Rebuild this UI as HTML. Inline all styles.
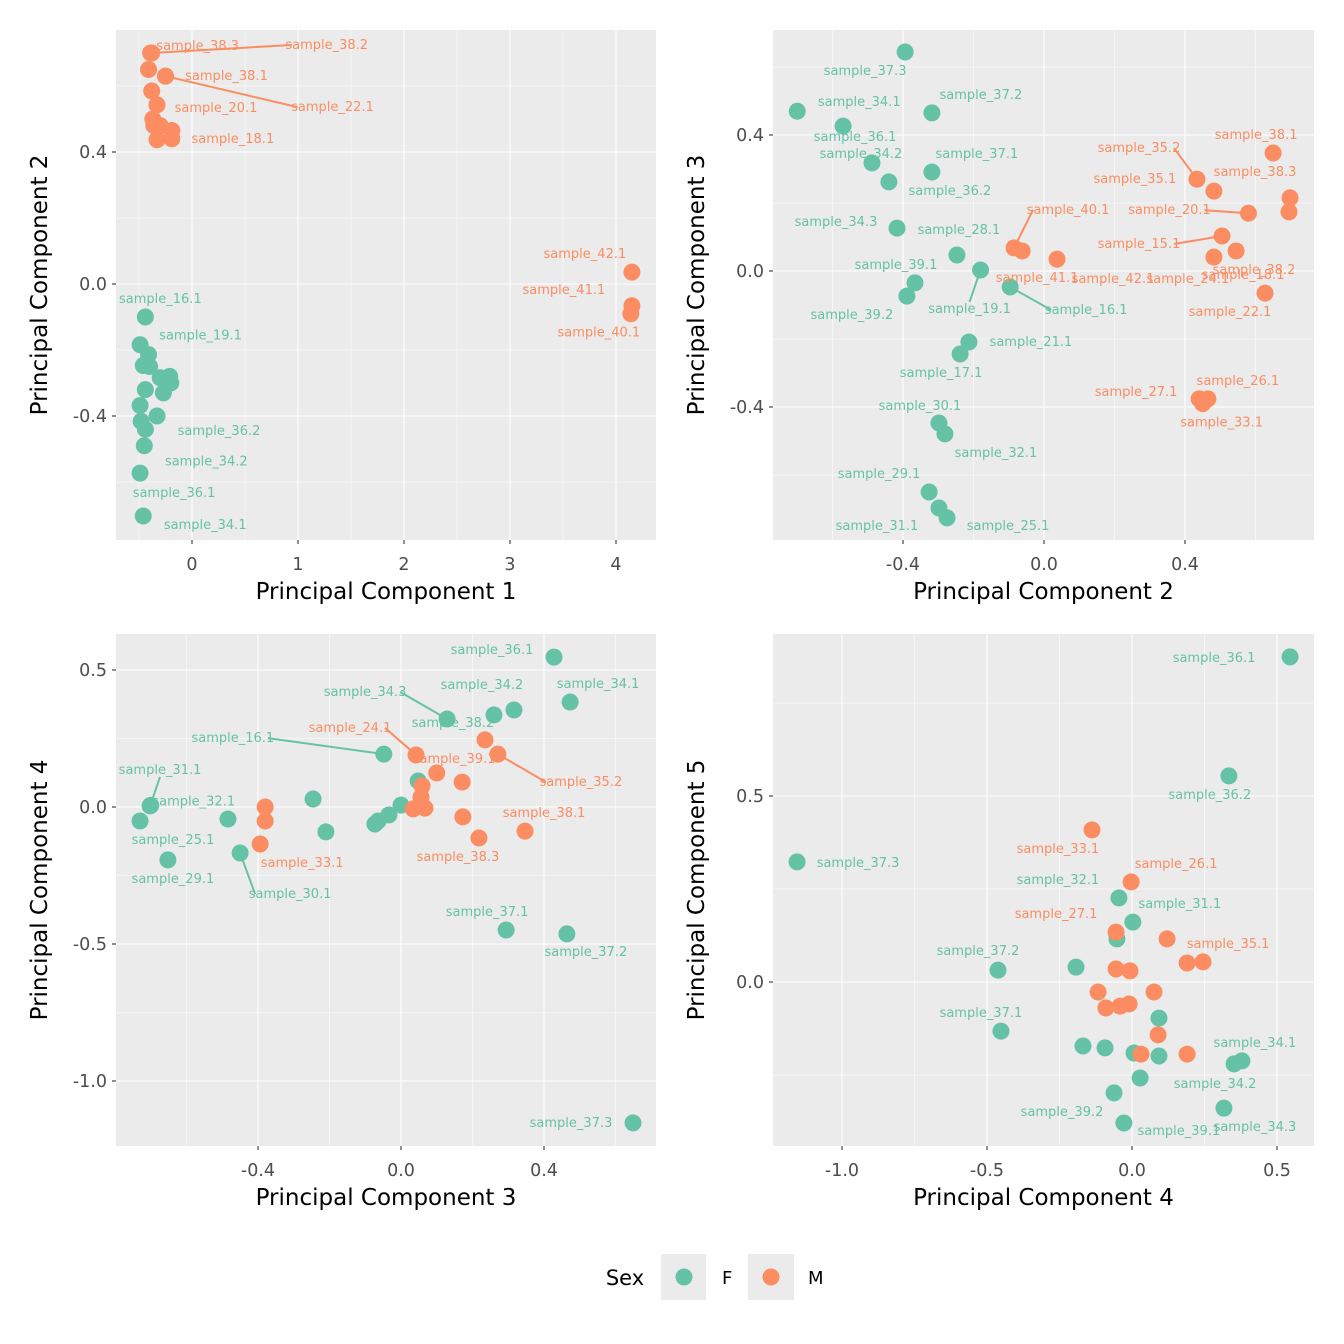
<!DOCTYPE html>
<html><head><meta charset="utf-8">
<style>
html,body{margin:0;padding:0;background:#fff;}
svg{display:block;font-family:"DejaVu Sans","Liberation Sans",sans-serif;}
</style></head>
<body>
<svg id="chart" width="1344" height="1344" viewBox="0 0 1344 1344">
<rect x="0" y="0" width="1344" height="1344" fill="#fff"/>
<g id="panels"></g>
<g>
 <text x="625" y="1285" font-size="21" text-anchor="middle" fill="#000">Sex</text>
 <rect x="661" y="1254" width="45" height="46" fill="#ebebeb"/>
 <circle cx="684" cy="1277" r="8.5" fill="#66c2a5"/>
 <text x="722" y="1284" font-size="18" fill="#000">F</text>
 <rect x="748" y="1254" width="46" height="46" fill="#ebebeb"/>
 <circle cx="771" cy="1277" r="8.5" fill="#fc8d62"/>
 <text x="808" y="1284" font-size="18" fill="#000">M</text>
</g>
</svg>
<script>
// [x, y, sex, label, labelDx, labelDy, leader]
const pc1pc2 = [
 [-0.39,0.70,'M','sample_38.3',47,-7,0],
 [-0.38,0.70,'M','sample_38.2',175,-8,1],
 [-0.41,0.65,'M','',0,0,0],
 [-0.25,0.63,'M','sample_38.1',61,0,0],
 [-0.25,0.63,'M','sample_22.1',167,31,1],
 [-0.38,0.585,'M','',0,0,0],
 [-0.33,0.543,'M','sample_20.1',59,3,0],
 [-0.37,0.50,'M','',0,0,0],
 [-0.30,0.48,'M','',0,0,0],
 [-0.36,0.48,'M','',0,0,0],
 [-0.19,0.465,'M','',0,0,0],
 [-0.33,0.437,'M','',0,0,0],
 [-0.19,0.44,'M','sample_18.1',61,0,0],
 [4.15,0.036,'M','sample_42.1',-47,-18,0],
 [4.15,-0.066,'M','sample_41.1',-68,-16,0],
 [4.14,-0.09,'M','sample_40.1',-32,19,0],
 [-0.44,-0.10,'F','sample_16.1',15,-18,0],
 [-0.49,-0.184,'F','',0,0,0],
 [-0.41,-0.214,'F','sample_19.1',52,-19,0],
 [-0.46,-0.247,'F','',0,0,0],
 [-0.40,-0.25,'F','',0,0,0],
 [-0.44,-0.32,'F','',0,0,0],
 [-0.30,-0.284,'F','',0,0,0],
 [-0.21,-0.28,'F','',0,0,0],
 [-0.20,-0.30,'F','',0,0,0],
 [-0.27,-0.33,'F','',0,0,0],
 [-0.49,-0.368,'F','',0,0,0],
 [-0.33,-0.40,'F','sample_36.2',62,15,0],
 [-0.48,-0.416,'F','',0,0,0],
 [-0.44,-0.44,'F','',0,0,0],
 [-0.45,-0.49,'F','sample_34.2',62,16,0],
 [-0.49,-0.573,'F','sample_36.1',34,20,0],
 [-0.46,-0.703,'F','sample_34.1',62,9,0]
];
const pc2pc3 = [
 [-0.394,0.644,'F','sample_37.3',-40,19,0],
 [-0.70,0.47,'F','sample_34.1',62,-9,0],
 [-0.318,0.465,'F','sample_37.2',49,-18,0],
 [-0.57,0.426,'F','sample_36.1',12,11,0],
 [-0.488,0.318,'F','sample_34.2',-11,-9,0],
 [-0.318,0.291,'F','sample_37.1',45,-18,0],
 [-0.44,0.262,'F','sample_36.2',61,9,0],
 [-0.417,0.126,'F','sample_34.3',-61,-6,0],
 [-0.247,0.047,'F','sample_28.1',2,-25,0],
 [-0.18,0.003,'F','sample_19.1',-11,39,1],
 [-0.366,-0.035,'F','sample_39.1',-19,-18,0],
 [-0.389,-0.074,'F','sample_39.2',-55,19,0],
 [-0.096,-0.047,'F','sample_16.1',76,23,1],
 [-0.213,-0.209,'F','sample_21.1',62,0,0],
 [-0.238,-0.244,'F','sample_17.1',-19,19,0],
 [-0.298,-0.447,'F','sample_30.1',-19,-17,0],
 [-0.281,-0.479,'F','sample_32.1',51,19,0],
 [-0.326,-0.65,'F','sample_29.1',-50,-18,0],
 [-0.298,-0.697,'F','sample_31.1',-62,18,0],
 [-0.275,-0.726,'F','sample_25.1',61,8,0],
 [0.65,0.347,'M','sample_38.1',-17,-18,0],
 [0.434,0.27,'M','sample_35.2',-58,-31,1],
 [0.482,0.235,'M','sample_35.1',-79,-12,0],
 [0.698,0.215,'M','sample_38.3',-35,-26,0],
 [0.58,0.17,'M','sample_20.1',-79,-3,1],
 [0.695,0.174,'M','sample_38.2',-35,58,0],
 [0.505,0.103,'M','sample_15.1',-83,8,1],
 [0.545,0.059,'M','sample_18.1',7,24,0],
 [0.482,0.041,'M','sample_24.1',-26,22,0],
 [-0.085,0.068,'M','sample_40.1',54,-38,1],
 [-0.062,0.059,'M','sample_41.1',15,27,0],
 [0.037,0.035,'M','sample_42.1',56,20,0],
 [0.627,-0.065,'M','sample_22.1',-35,19,0],
 [0.44,-0.376,'M','sample_27.1',-63,-7,0],
 [0.465,-0.376,'M','sample_26.1',30,-18,0],
 [0.45,-0.39,'M','sample_33.1',19,19,0]
];
const pc3pc4 = [
 [0.428,0.547,'F','sample_36.1',-62,-7,0],
 [0.473,0.383,'F','sample_34.1',28,-18,0],
 [0.316,0.354,'F','sample_34.2',-32,-25,0],
 [0.26,0.336,'F','sample_38.2',-41,8,0],
 [0.129,0.321,'F','sample_34.3',-82,-27,1],
 [-0.048,0.193,'F','sample_16.1',-151,-16,1],
 [0.048,0.095,'F','',0,0,0],
 [-0.246,0.029,'F','',0,0,0],
 [0.0,0.007,'F','',0,0,0],
 [-0.034,-0.029,'F','',0,0,0],
 [-0.064,-0.051,'F','',0,0,0],
 [-0.073,-0.062,'F','',0,0,0],
 [-0.702,0.004,'F','sample_31.1',10,-36,1],
 [-0.700,0.006,'F','sample_32.1',43,-4,0],
 [-0.73,-0.051,'F','sample_25.1',33,19,0],
 [-0.484,-0.044,'F','',0,0,0],
 [-0.21,-0.091,'F','',0,0,0],
 [-0.652,-0.193,'F','sample_29.1',5,19,0],
 [-0.45,-0.168,'F','sample_30.1',50,41,1],
 [0.294,-0.449,'F','sample_37.1',-19,-18,0],
 [0.464,-0.463,'F','sample_37.2',19,18,0],
 [0.649,-1.153,'F','sample_37.3',-62,0,0],
 [0.042,0.19,'M','sample_24.1',-66,-27,1],
 [0.235,0.245,'M','',0,0,0],
 [0.271,0.193,'M','sample_35.2',83,28,1],
 [0.171,0.091,'M','sample_39.1',-8,-23,0],
 [0.059,0.077,'M','',0,0,0],
 [0.056,0.036,'M','',0,0,0],
 [0.1,0.124,'M','',0,0,0],
 [0.034,-0.007,'M','',0,0,0],
 [0.067,-0.004,'M','',0,0,0],
 [-0.38,0.0,'M','',0,0,0],
 [-0.38,-0.051,'M','',0,0,0],
 [-0.394,-0.135,'M','sample_33.1',42,19,0],
 [0.173,-0.036,'M','',0,0,0],
 [0.218,-0.113,'M','sample_38.3',-21,19,0],
 [0.347,-0.088,'M','sample_38.1',19,-18,0]
];
const pc4pc5 = [
 [0.545,0.874,'F','sample_36.1',-76,1,0],
 [0.334,0.554,'F','sample_36.2',-19,19,0],
 [-1.155,0.323,'F','sample_37.3',61,1,0],
 [-0.045,0.226,'F','sample_32.1',-61,-18,0],
 [0.003,0.161,'F','sample_31.1',47,-18,0],
 [-0.052,0.116,'F','',0,0,0],
 [-0.462,0.032,'F','sample_37.2',-20,-19,0],
 [-0.193,0.04,'F','',0,0,0],
 [-0.452,-0.132,'F','sample_37.1',-20,-18,0],
 [0.093,-0.097,'F','',0,0,0],
 [-0.169,-0.172,'F','',0,0,0],
 [-0.093,-0.177,'F','',0,0,0],
 [0.007,-0.191,'F','',0,0,0],
 [0.093,-0.199,'F','',0,0,0],
 [0.379,-0.212,'F','sample_34.1',13,-18,0],
 [0.352,-0.22,'F','sample_34.2',-19,20,0],
 [0.028,-0.258,'F','',0,0,0],
 [-0.062,-0.298,'F','sample_39.2',-52,19,0],
 [-0.028,-0.379,'F','sample_39.1',55,8,0],
 [0.317,-0.339,'F','sample_34.3',31,19,0],
 [-0.138,0.409,'M','sample_33.1',-34,19,0],
 [-0.003,0.269,'M','sample_26.1',45,-18,0],
 [-0.055,0.134,'M','sample_27.1',-60,-18,0],
 [0.121,0.116,'M','sample_35.1',61,5,0],
 [-0.055,0.035,'M','',0,0,0],
 [-0.007,0.03,'M','',0,0,0],
 [0.19,0.051,'M','',0,0,0],
 [0.245,0.054,'M','',0,0,0],
 [-0.117,-0.027,'M','',0,0,0],
 [0.076,-0.027,'M','',0,0,0],
 [-0.09,-0.07,'M','',0,0,0],
 [-0.041,-0.065,'M','',0,0,0],
 [-0.01,-0.059,'M','',0,0,0],
 [0.09,-0.142,'M','',0,0,0],
 [0.19,-0.194,'M','',0,0,0],
 [0.031,-0.194,'M','',0,0,0]
];
const xTicks1 = [0,1,2,3,4], yTicks1 = [-0.4,0,0.4];
const xTicks2 = [-0.4,0,0.4], yTicks2 = [-0.4,0,0.4];
const xTicks3 = [-0.4,0,0.4], yTicks3 = [-1.0,-0.5,0,0.5];
const xTicks4 = [-1.0,-0.5,0,0.5], yTicks4 = [0,0.5];
const xTickLabels1 = ['0','1','2','3','4'], yTickLabels1 = ['-0.4','0.0','0.4'];
const xTickLabels2 = ['-0.4','0.0','0.4'], yTickLabels2 = ['-0.4','0.0','0.4'];
const xTickLabels3 = ['-0.4','0.0','0.4'], yTickLabels3 = ['-1.0','-0.5','0.0','0.5'];
const xTickLabels4 = ['-1.0','-0.5','0.0','0.5'], yTickLabels4 = ['0.0','0.5'];

const NS='http://www.w3.org/2000/svg';
const COL={F:'#66c2a5',M:'#fc8d62'};
function mk(tag,attrs,parent){const e=document.createElementNS(NS,tag);for(const k in attrs)e.setAttribute(k,attrs[k]);parent.appendChild(e);return e;}
const root=document.getElementById('panels');

const panels=[
 {id:'pc1-vs-pc2',data:pc1pc2,box:[116,30,656,540],xd:[0,1],xp:[192,298],yd:[0,0.4],yp:[284,152],xt:xTicks1,xl:xTickLabels1,yt:yTicks1,yl:yTickLabels1,xm:[-0.5,0.5,1.5,2.5,3.5],ym:[-0.6,-0.2,0.2,0.6],xtitle:'Principal Component 1',ytitle:'Principal Component 2'},
 {id:'pc2-vs-pc3',data:pc2pc3,box:[773,30,1314,540],xd:[0,0.4],xp:[1044,1185],yd:[0,0.4],yp:[271,135],xt:xTicks2,xl:xTickLabels2,yt:yTicks2,yl:yTickLabels2,xm:[-0.6,-0.2,0.2,0.6],ym:[-0.6,-0.2,0.2,0.6],xtitle:'Principal Component 2',ytitle:'Principal Component 3'},
 {id:'pc3-vs-pc4',data:pc3pc4,box:[116,634,656,1146],xd:[0,0.4],xp:[401,544],yd:[0,0.5],yp:[807,670],xt:xTicks3,xl:xTickLabels3,yt:yTicks3,yl:yTickLabels3,xm:[-0.6,-0.2,0.2,0.6],ym:[-0.75,-0.25,0.25],xtitle:'Principal Component 3',ytitle:'Principal Component 4'},
 {id:'pc4-vs-pc5',data:pc4pc5,box:[773,634,1314,1146],xd:[0,0.5],xp:[1132,1277],yd:[0,0.5],yp:[982,796],xt:xTicks4,xl:xTickLabels4,yt:yTicks4,yl:yTickLabels4,xm:[-0.75,-0.25,0.25],ym:[-0.25,0.25,0.75],xtitle:'Principal Component 4',ytitle:'Principal Component 5'}
];

panels.forEach(p=>{
 const [x0,y0,x1,y1]=p.box;
 const sx=v=>p.xp[0]+(v-p.xd[0])*(p.xp[1]-p.xp[0])/(p.xd[1]-p.xd[0]);
 const sy=v=>p.yp[0]+(v-p.yd[0])*(p.yp[1]-p.yp[0])/(p.yd[1]-p.yd[0]);
 const g=mk('g',{},root);
 
 
 const bg=mk('rect',{x:x0,y:y0,width:x1-x0,height:y1-y0,fill:'#ebebeb'},g);
 
 
 p.xm.forEach(v=>{const X=sx(v);if(X>x0&&X<x1){const l=mk('line',{x1:X,x2:X,y1:y0,y2:y1,stroke:'#fff','stroke-width':0.55},g);}});
 p.ym.forEach(v=>{const Y=sy(v);if(Y>y0&&Y<y1){const l=mk('line',{x1:x0,x2:x1,y1:Y,y2:Y,stroke:'#fff','stroke-width':0.55},g);}});
 p.xt.forEach((v,i)=>{const X=sx(v);
  const l=mk('line',{x1:X,x2:X,y1:y0,y2:y1,stroke:'#fff','stroke-width':1.1},g);
  
  
  mk('line',{x1:X,x2:X,y1:y1,y2:y1+4,stroke:'#333','stroke-width':1.1},g);
  const t=mk('text',{x:X,y:y1+30,'font-size':17.5,'text-anchor':'middle',fill:'#4d4d4d'},g);t.textContent=p.xl[i];
  
  });
 p.yt.forEach((v,i)=>{const Y=sy(v);
  const l=mk('line',{x1:x0,x2:x1,y1:Y,y2:Y,stroke:'#fff','stroke-width':1.1},g);
  
  
  mk('line',{x1:x0-4,x2:x0,y1:Y,y2:Y,stroke:'#333','stroke-width':1.1},g);
  const t=mk('text',{x:x0-9,y:Y+6,'font-size':17.5,'text-anchor':'end',fill:'#4d4d4d'},g);t.textContent=p.yl[i];
  
  });
 const xt=mk('text',{x:(x0+x1)/2,y:y1+59,'font-size':23,'text-anchor':'middle',fill:'#000'},g);xt.textContent=p.xtitle;
 
 
 const cy=(y0+y1)/2;
 const yt=mk('text',{x:0,y:0,'font-size':23,'text-anchor':'middle',fill:'#000',transform:`translate(${x0-69},${cy}) rotate(-90)`},g);yt.textContent=p.ytitle;
 
 
 p.data.forEach(d=>{ if(!d[3]||!d[6])return;
  const X=sx(d[0]),Y=sy(d[1]);const lx=X+d[4],ly=Y+d[5];
  let ex,ey;
  if(Math.abs(d[4])>40){ex=lx-Math.sign(d[4])*35;ey=ly;} else {ex=lx;ey=ly-Math.sign(d[5])*7;}
  const l=mk('line',{x1:X,y1:Y,x2:ex,y2:ey,stroke:COL[d[2]],'stroke-width':2},g);
  
  });
 p.data.forEach(d=>{
  const c=mk('circle',{cx:sx(d[0]),cy:sy(d[1]),r:8.5,fill:COL[d[2]]},g);
  
  });
 p.data.forEach(d=>{ if(!d[3])return;
  const t=mk('text',{x:sx(d[0])+d[4],y:sy(d[1])+d[5]+4,'font-size':13,'text-anchor':'middle',fill:COL[d[2]]},g);
  t.textContent=d[3];
  
  });
});
</script>
</body></html>
